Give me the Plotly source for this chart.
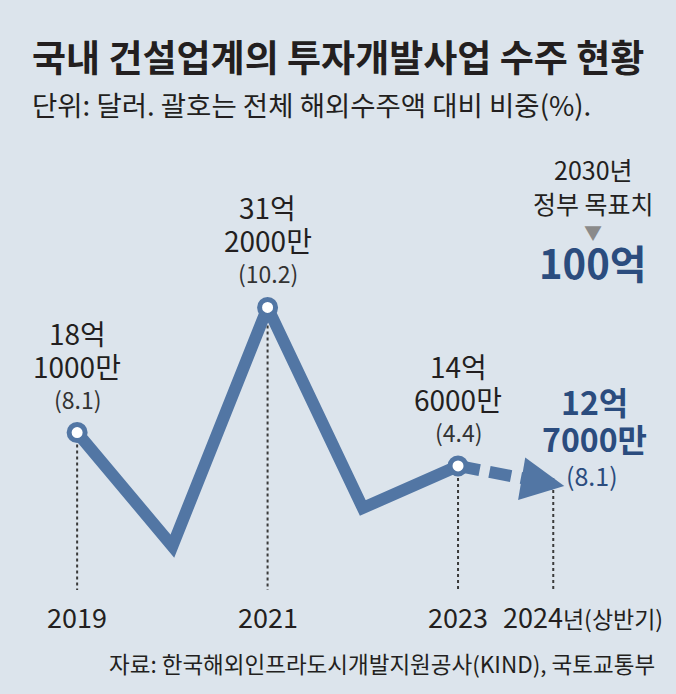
import plotly.graph_objects as go

# ---- data (억 달러) ----
years = [2019, 2020, 2021, 2022, 2023]
orders = [18.1, 6.2, 31.2, 10.2, 14.6]
h1_year = 2024
h1_order = 12.7
labeled_years = [2019, 2021, 2023]
labeled_orders = [18.1, 31.2, 14.6]
labeled_shares = ["(8.1)", "(10.2)", "(4.4)"]
h1_share = "(8.1)"
tick_years = [2019, 2021, 2023, 2024]
tick_labels = ["2019", "2021", "2023", "2024<span style='font-size:23px'>년(상반기)</span>"]
target_text = "100억"

title = "국내 건설업계의 투자개발사업 수주 현황"
subtitle = "단위: 달러. 괄호는 전체 해외수주액 대비 비중(%)."
source = "자료: 한국해외인프라도시개발지원공사(KIND), 국토교통부"

# ---- style ----
W, H = 676, 694
BG = "#dce4ec"
LINE = "#5276a4"
DARK = "#231f20"
NAVY = "#2b4c7e"
FONT = "Noto Sans CJK KR"
BASE = 1.6  # bottom of the dotted drop lines (value units)


def eok(v):
    return f"{int(v)}억"


def man(v):
    e = int(v)
    return f"{int(round((v - e) * 10)) * 1000}만"


def px(x):
    return x / W


def py(y):
    return 1 - y / H


fig = go.Figure()

# dotted drop lines
for x, y in list(zip(labeled_years, labeled_orders)) + [(h1_year, h1_order)]:
    fig.add_trace(go.Scatter(
        x=[x, x], y=[y, BASE], mode="lines",
        line=dict(color="#3a3a3a", width=2, dash="3px,3px"),
        hoverinfo="skip", showlegend=False))

# dashed projection
fig.add_trace(go.Scatter(
    x=[years[-1], h1_year], y=[orders[-1], h1_order], mode="lines",
    line=dict(color=LINE, width=12, dash="22px,10px"),
    hoverinfo="skip", showlegend=False))

# main line
fig.add_trace(go.Scatter(
    x=years, y=orders, mode="lines",
    line=dict(color=LINE, width=12),
    hoverinfo="skip", showlegend=False))

# hollow markers
fig.add_trace(go.Scatter(
    x=labeled_years, y=labeled_orders, mode="markers",
    marker=dict(symbol="circle", size=16, color="white",
                line=dict(color=LINE, width=5)),
    hoverinfo="skip", showlegend=False))

ann = []
# arrowhead at the end of the projection
ann.append(dict(x=h1_year, y=h1_order, xref="x", yref="y", text="",
                showarrow=True, arrowhead=2, arrowsize=0.72, arrowwidth=12,
                arrowcolor=LINE, ax=-22, ay=-3.7, xshift=11, yshift=-1.9))

for x, y, s in zip(labeled_years, labeled_orders, labeled_shares):
    ann.append(dict(x=x, y=y, xref="x", yref="y", text=eok(y),
                    showarrow=False, yshift=100, yanchor="middle", xanchor="center",
                    font=dict(family=FONT, size=28, color=DARK)))
    ann.append(dict(x=x, y=y, xref="x", yref="y", text=man(y),
                    showarrow=False, yshift=67, yanchor="middle", xanchor="center",
                    font=dict(family=FONT, size=28, color=DARK)))
    ann.append(dict(x=x, y=y, xref="x", yref="y", text=s,
                    showarrow=False, yshift=34, yanchor="middle", xanchor="center",
                    font=dict(family=FONT, size=23, color="#333333")))

ann.append(dict(x=h1_year, y=h1_order, xref="x", yref="y",
                text=f"<b>{eok(h1_order)}</b>",
                showarrow=False, xshift=41, yshift=83, yanchor="middle", xanchor="center",
                font=dict(family=FONT, size=32, color=NAVY)))
ann.append(dict(x=h1_year, y=h1_order, xref="x", yref="y",
                text=f"<b>{man(h1_order)}</b>",
                showarrow=False, xshift=41, yshift=46, yanchor="middle", xanchor="center",
                font=dict(family=FONT, size=32, color=NAVY)))
ann.append(dict(x=h1_year, y=h1_order, xref="x", yref="y", text=h1_share,
                showarrow=False, xshift=39, yshift=9, yanchor="middle", xanchor="center",
                font=dict(family=FONT, size=25, color=NAVY)))

# tick labels
for x, t in zip(tick_years, tick_labels):
    ann.append(dict(x=x, y=py(616), xref="x", yref="paper", text=t,
                    showarrow=False, xshift=30 if x == 2024 else 0,
                    yanchor="middle", xanchor="center",
                    font=dict(family=FONT, size=27, color=DARK)))

# 2030 target
ann.append(dict(x=px(593), y=py(169), xref="paper", yref="paper",
                text="2030년", showarrow=False,
                xanchor="center", yanchor="middle",
                font=dict(family=FONT, size=25, color=DARK)))
ann.append(dict(x=px(593), y=py(203), xref="paper", yref="paper",
                text="정부 목표치", showarrow=False,
                xanchor="center", yanchor="middle",
                font=dict(family=FONT, size=25, color=DARK)))
ann.append(dict(x=px(593), y=py(232), xref="paper", yref="paper",
                text="▼", showarrow=False, xanchor="center", yanchor="middle",
                font=dict(family=FONT, size=18, color="#8a8a8a")))
ann.append(dict(x=px(593), y=py(262), xref="paper", yref="paper",
                text=f"<b>{target_text}</b>", showarrow=False,
                xanchor="center", yanchor="middle",
                font=dict(family=FONT, size=40, color=NAVY)))

# titles
ann.append(dict(x=px(30), y=py(56), xref="paper", yref="paper",
                text=f"<b>{title}</b>", showarrow=False,
                xanchor="left", yanchor="middle",
                font=dict(family=FONT, size=37, color=DARK)))
ann.append(dict(x=px(30), y=py(104), xref="paper", yref="paper",
                text=subtitle, showarrow=False,
                xanchor="left", yanchor="middle",
                font=dict(family=FONT, size=27.5, color=DARK)))
ann.append(dict(x=px(657), y=py(663), xref="paper", yref="paper",
                text=source, showarrow=False,
                xanchor="right", yanchor="middle",
                font=dict(family=FONT, size=22.5, color=DARK)))

fig.update_layout(
    width=W, height=H,
    margin=dict(l=0, r=0, t=0, b=0),
    paper_bgcolor=BG, plot_bgcolor=BG,
    xaxis=dict(range=[2018.19, 2025.289], visible=False, fixedrange=True),
    yaxis=dict(range=[-9.29, 63.41], visible=False, fixedrange=True),
    annotations=ann,
    showlegend=False,
)

fig.write_html("out.html", config={"displayModeBar": False},
               post_script="document.body.style.margin='0';document.body.style.overflow='hidden';")
